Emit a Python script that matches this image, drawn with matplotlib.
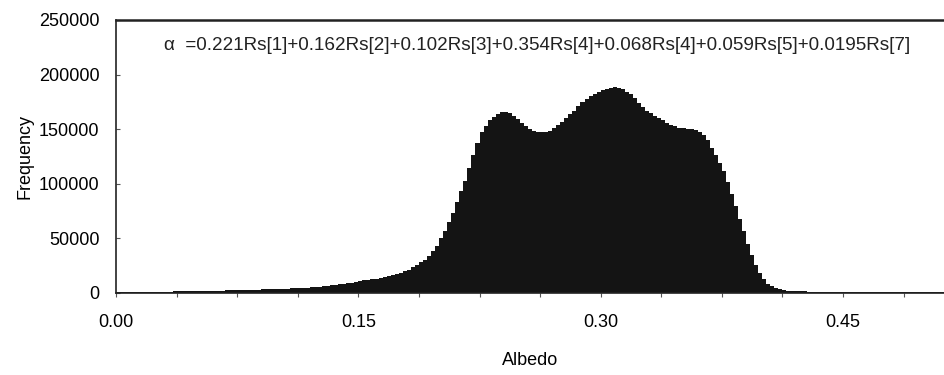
import numpy as np
import matplotlib
matplotlib.use("Agg")
import matplotlib.pyplot as plt
from matplotlib.ticker import MultipleLocator, FixedLocator

plt.rcParams['font.family'] = ['Liberation Sans', 'DejaVu Sans']

# histogram of albedo, bin width 0.0025 starting at 0.00
bin_width = 0.0025
freq = [
    600, 700, 800, 800, 900, 900, 1000, 1000, 1100, 1100,
    1200, 1200, 1300, 1300, 1400, 1400, 1500, 1500, 1600, 1600,
    1700, 1800, 1900, 2000, 2000, 2100, 2200, 2300, 2400, 2500,
    2600, 2700, 2800, 2900, 3000, 3100, 3200, 3300, 3400, 3600,
    3700, 3900, 4000, 4200, 4400, 4600, 4800, 5000, 5300, 5600,
    5900, 6200, 6500, 6900, 7300, 7800, 8300, 8900, 9500, 10200,
    11000, 11500, 12000, 12600, 13200, 13800, 14500, 15300, 16300, 17400,
    18500, 19800, 21500, 23800, 26000, 28000, 30500, 34000, 38000, 43000,
    50000, 57000, 65000, 73000, 83000, 93000, 103000, 114000, 126000, 137000,
    147000, 153000, 158000, 161000, 164000, 165500, 166000, 164500, 162500, 159500,
    156000, 153000, 150500, 148500, 147500, 147000, 147000, 148500, 151000, 154000,
    157000, 160500, 163500, 167000, 171000, 174500, 177500, 180000, 182500, 184500,
    186000, 187000, 188000, 188600, 188000, 186500, 184500, 182000, 178500, 174000,
    170000, 167000, 164500, 162500, 160000, 158000, 156000, 154000, 152500, 151500,
    151000, 150500, 150000, 149000, 147000, 144500, 140000, 133000, 126000, 119000,
    112000, 102000, 91000, 80000, 68000, 57000, 45000, 35000, 26000, 18500,
    12500, 8500, 6000, 4300, 3200, 2600, 2200, 1900, 1700, 1500,
    1400, 1300, 1250, 1200, 1150, 1100, 1050, 1000, 980, 960,
    940, 920, 900, 880, 860, 840, 820, 800, 780, 760,
    740, 720, 700, 680, 660, 640, 620, 600, 590, 580,
    570, 560, 550, 540, 530,
]
x_ticks = [0.00, 0.15, 0.30, 0.45]
x_labels = ["0.00", "0.15", "0.30", "0.45"]
y_ticks = [0, 50000, 100000, 150000, 200000, 250000]
formula = "α  =0.221Rs[1]+0.162Rs[2]+0.102Rs[3]+0.354Rs[4]+0.068Rs[4]+0.059Rs[5]+0.0195Rs[7]"

left_edges = np.arange(len(freq)) * bin_width

fig = plt.figure(figsize=(9.44, 3.75), dpi=100)
ax = fig.add_axes([0.1229, 0.2187, 0.8771, 0.728])

ax.bar(left_edges, freq, width=bin_width, align='edge',
       color='#141414', linewidth=0)

ax.set_xlim(0, len(freq) * bin_width)
ax.set_ylim(0, 250000)

ax.xaxis.set_major_locator(FixedLocator(x_ticks))
ax.set_xticklabels(x_labels)
ax.xaxis.set_minor_locator(MultipleLocator(0.0375))
ax.set_yticks(y_ticks)
ax.set_yticklabels([str(v) for v in y_ticks])

ax.tick_params(axis='x', which='both', direction='out', length=3, width=0.8,
               color='#555555', labelsize=13, pad=12)
ax.tick_params(axis='y', which='both', direction='in', length=3, width=0.8,
               color='#555555', labelsize=13, pad=12)

for s in ['left', 'bottom', 'top']:
    ax.spines[s].set_color('#222222')
ax.spines['left'].set_linewidth(1.2)
ax.spines['bottom'].set_linewidth(1.2)
ax.spines['top'].set_linewidth(1.8)
ax.spines['right'].set_visible(False)

ax.set_xlabel("Albedo", fontsize=13, labelpad=15)
ax.set_ylabel("Frequency", fontsize=13, labelpad=4)

ax.text(0.058, 0.905, formula, transform=ax.transAxes, fontsize=13.6,
        ha='left', va='center', color='#222222')

fig.savefig("out.png", dpi=100)
